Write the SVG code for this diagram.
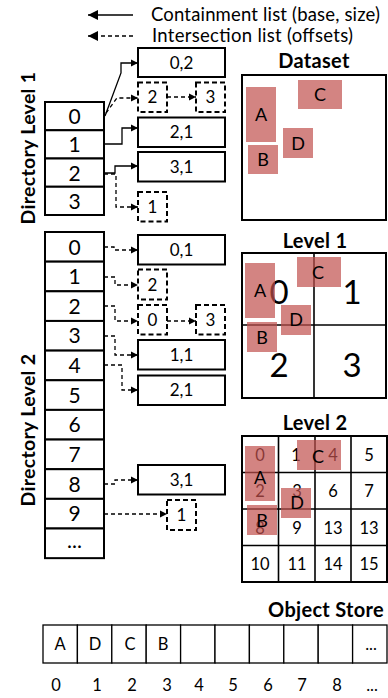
<svg xmlns="http://www.w3.org/2000/svg" width="388" height="698" viewBox="0 0 388 698">
  <defs>
    <marker id="ah" viewBox="0 0 8 8" refX="8" refY="4" markerWidth="7" markerHeight="8" markerUnits="userSpaceOnUse" orient="auto">
      <path d="M0,0 L8,4 L0,8 Z" fill="#000"/>
    </marker>
    <marker id="ahBig" viewBox="0 0 10 10" refX="10" refY="5" markerWidth="10" markerHeight="10" markerUnits="userSpaceOnUse" orient="auto">
      <path d="M0,0 L10,5 L0,10 Z" fill="#000"/>
    </marker>
  </defs>
  <style>
    text { font-family: Lato, "Open Sans", "Liberation Sans", sans-serif; fill: #000; }
    .dir { font-size: 21px; text-anchor: middle; }
    .lbl { font-size: 17px; text-anchor: middle; }
    .title { font-size: 20px; font-weight: bold; text-anchor: middle; letter-spacing: 0.3px; }
    .vtitle { font-size: 19.5px; font-weight: bold; text-anchor: middle; letter-spacing: 0.3px; }
    .legend { font-size: 18.5px; }
    .cell { fill: #fff; stroke: #000; stroke-width: 2; }
    .box { fill: #fff; stroke: #000; stroke-width: 2; }
    .dbox { fill: #fff; stroke: #000; stroke-width: 2; stroke-dasharray: 5 3; }
    .solid { fill: none; stroke: #000; stroke-width: 1.3; marker-end: url(#ah); }
    .dash { fill: none; stroke: #000; stroke-width: 1.3; stroke-dasharray: 4 3; marker-end: url(#ah); }
    .frame { fill: #fff; stroke: #000; stroke-width: 2; }
    .grid { stroke: #000; stroke-width: 1.6; fill: none; }
    .obj { fill: #c0504d; opacity: 0.7; }
    .objlbl { font-size: 18px; text-anchor: middle; }
    .big { font-size: 33px; text-anchor: middle; }
    .num { font-size: 16.5px; text-anchor: middle; }
    .store { fill: #fff; stroke: #000; stroke-width: 1.3; }
  </style>

  <!-- legend -->
  <g id="legend">
    <line x1="133" y1="15" x2="88" y2="15" stroke="#000" stroke-width="1.5" marker-end="url(#ahBig)"/>
    <line x1="133" y1="36" x2="88" y2="36" stroke="#000" stroke-width="1.5" stroke-dasharray="4 3" marker-end="url(#ahBig)"/>
    <text class="legend" x="151" y="21" textLength="229" lengthAdjust="spacing">Containment list (base, size)</text>
    <text class="legend" x="152" y="42" textLength="201" lengthAdjust="spacing">Intersection list (offsets)</text>
  </g>

  <!-- directory level 1 -->
  <g id="dir-level-1">
    <text class="vtitle" transform="translate(35,148) rotate(-90)">Directory Level 1</text>
    <rect class="cell" x="45" y="102" width="59" height="28.25"/>
    <rect class="cell" x="45" y="130.25" width="59" height="28.25"/>
    <rect class="cell" x="45" y="158.5" width="59" height="28.25"/>
    <rect class="cell" x="45" y="186.75" width="59" height="28.25"/>
    <text class="dir" x="74.5" y="124">0</text>
    <text class="dir" x="74.5" y="152">1</text>
    <text class="dir" x="74.5" y="180.5">2</text>
    <text class="dir" x="74.5" y="208.5">3</text>
  </g>

  <g id="l1-lists">
    <g id="l1-c0"><rect class="box" x="138" y="48" width="87" height="29"/><text class="lbl" x="181.5" y="68.5">0,2</text></g>
    <g id="l1-i0a"><rect class="dbox" x="138" y="82.5" width="29" height="29.5"/><text class="lbl" x="152.5" y="103">2</text></g>
    <g id="l1-i0b"><rect class="dbox" x="196" y="82.5" width="29" height="29.5"/><text class="lbl" x="210.5" y="103">3</text></g>
    <g id="l1-c1"><rect class="box" x="138" y="117.5" width="87" height="29.5"/><text class="lbl" x="181.5" y="138">2,1</text></g>
    <g id="l1-c2"><rect class="box" x="138" y="152" width="87" height="29.5"/><text class="lbl" x="181.5" y="172.5">3,1</text></g>
    <g id="l1-i2"><rect class="dbox" x="138" y="192" width="29" height="29.5"/><text class="lbl" x="152.5" y="212.5">1</text></g>
  </g>

  <!-- directory level 2 -->
  <g id="dir-level-2">
    <text class="vtitle" transform="translate(35,430) rotate(-90)">Directory Level 2</text>
    <rect class="cell" x="45" y="232" width="59" height="29.65"/>
    <rect class="cell" x="45" y="261.65" width="59" height="29.65"/>
    <rect class="cell" x="45" y="291.3" width="59" height="29.65"/>
    <rect class="cell" x="45" y="320.95" width="59" height="29.65"/>
    <rect class="cell" x="45" y="350.6" width="59" height="29.65"/>
    <rect class="cell" x="45" y="380.25" width="59" height="29.65"/>
    <rect class="cell" x="45" y="409.9" width="59" height="29.65"/>
    <rect class="cell" x="45" y="439.55" width="59" height="29.65"/>
    <rect class="cell" x="45" y="469.2" width="59" height="29.65"/>
    <rect class="cell" x="45" y="498.85" width="59" height="29.65"/>
    <rect class="cell" x="45" y="528.5" width="59" height="29.65"/>
    <text class="dir" x="74.5" y="254.5">0</text>
    <text class="dir" x="74.5" y="284">1</text>
    <text class="dir" x="74.5" y="313.5">2</text>
    <text class="dir" x="74.5" y="343">3</text>
    <text class="dir" x="74.5" y="373">4</text>
    <text class="dir" x="74.5" y="402.5">5</text>
    <text class="dir" x="74.5" y="432">6</text>
    <text class="dir" x="74.5" y="462">7</text>
    <text class="dir" x="74.5" y="491.5">8</text>
    <text class="dir" x="74.5" y="521">9</text>
    <text class="dir" x="74.5" y="548">...</text>
  </g>

  <g id="l2-lists">
    <g id="l2-c0"><rect class="box" x="138" y="235" width="87" height="29.5"/><text class="lbl" x="181.5" y="255.5">0,1</text></g>
    <g id="l2-i1"><rect class="dbox" x="138" y="269.5" width="29" height="30"/><text class="lbl" x="152.5" y="290.5">2</text></g>
    <g id="l2-i2a"><rect class="dbox" x="138" y="305" width="29" height="29.5"/><text class="lbl" x="152.5" y="326">0</text></g>
    <g id="l2-i2b"><rect class="dbox" x="196" y="305" width="29" height="29.5"/><text class="lbl" x="210.5" y="326">3</text></g>
    <g id="l2-c3"><rect class="box" x="138" y="340" width="87" height="29.5"/><text class="lbl" x="181.5" y="360.5">1,1</text></g>
    <g id="l2-c4"><rect class="box" x="138" y="375.5" width="87" height="29.5"/><text class="lbl" x="181.5" y="396">2,1</text></g>
    <g id="l2-c8"><rect class="box" x="138" y="465" width="87" height="29.5"/><text class="lbl" x="181.5" y="485.5">3,1</text></g>
    <g id="l2-i9"><rect class="dbox" x="167" y="500" width="29" height="30"/><text class="lbl" x="181.5" y="521">1</text></g>
  </g>

  <!-- connectors -->
  <g id="connectors">
    <path class="solid" d="M105,116 L121,73 V63 H138"/>
    <path class="dash" d="M106,113 L117,98 H138"/>
    <path class="dash" d="M167,97 H196"/>
    <path class="solid" d="M104,144 H122 V128 H138"/>
    <path class="solid" d="M104,173 H115 V166 H138"/>
    <path class="dash" d="M104,174 H116 V207 H138"/>

    <path class="dash" d="M104,247 H114 V250 H138"/>
    <path class="dash" d="M104,277 H115 V285 H138"/>
    <path class="dash" d="M104,306 H115 V321 H138"/>
    <path class="dash" d="M167,321 H196"/>
    <path class="dash" d="M104,336 H115 V355 H138"/>
    <path class="dash" d="M104,365 H122 V390 H138"/>
    <path class="dash" d="M104,484 H115 V480 H138"/>
    <path class="dash" d="M104,514 H167"/>
  </g>

  <!-- dataset view -->
  <g id="dataset">
    <text class="title" x="314" y="68">Dataset</text>
    <rect class="frame" x="242" y="75" width="144" height="145"/>
    <rect class="obj" x="246" y="87" width="30" height="55"/>
    <rect class="obj" x="298" y="80" width="44" height="29"/>
    <rect class="obj" x="283" y="128" width="30" height="30"/>
    <rect class="obj" x="248" y="145" width="30" height="29"/>
    <text class="objlbl" x="261" y="121">A</text>
    <text class="objlbl" x="320" y="101">C</text>
    <text class="objlbl" x="298" y="150">D</text>
    <text class="objlbl" x="263" y="166">B</text>
  </g>

  <!-- level 1 partition -->
  <g id="level-1">
    <text class="title" x="315" y="248">Level 1</text>
    <rect class="frame" x="242" y="253" width="144" height="145"/>
    <line class="grid" x1="314" y1="253" x2="314" y2="398"/>
    <line class="grid" x1="242" y1="325" x2="386" y2="325"/>
    <text class="big" x="279" y="304">0</text>
    <text class="big" x="352" y="304">1</text>
    <text class="big" x="279" y="377">2</text>
    <text class="big" x="352" y="377">3</text>
    <rect class="obj" x="245" y="263" width="30" height="55"/>
    <rect class="obj" x="297" y="257" width="44" height="30"/>
    <rect class="obj" x="281" y="305" width="30" height="30"/>
    <rect class="obj" x="247" y="322" width="30" height="30"/>
    <text class="objlbl" x="260" y="297">A</text>
    <text class="objlbl" x="318" y="279">C</text>
    <text class="objlbl" x="296" y="326">D</text>
    <text class="objlbl" x="262" y="344">B</text>
  </g>

  <!-- level 2 partition -->
  <g id="level-2">
    <text class="title" x="315" y="430">Level 2</text>
    <rect class="frame" x="242" y="436" width="145" height="146"/>
    <line class="grid" x1="278.5" y1="436" x2="278.5" y2="582"/>
    <line class="grid" x1="315" y1="436" x2="315" y2="582"/>
    <line class="grid" x1="351" y1="436" x2="351" y2="582"/>
    <line class="grid" x1="242" y1="472.5" x2="387" y2="472.5"/>
    <line class="grid" x1="242" y1="509" x2="387" y2="509"/>
    <line class="grid" x1="242" y1="545.5" x2="387" y2="545.5"/>
    <text class="num" x="260" y="461">0</text>
    <text class="num" x="296" y="461">1</text>
    <text class="num" x="333" y="461">4</text>
    <text class="num" x="369" y="461">5</text>
    <text class="num" x="260" y="497">2</text>
    <text class="num" x="297" y="497">3</text>
    <text class="num" x="333" y="497">6</text>
    <text class="num" x="369" y="497">7</text>
    <text class="num" x="260" y="534">8</text>
    <text class="num" x="297" y="534">9</text>
    <text class="num" x="333" y="534">13</text>
    <text class="num" x="369" y="534">13</text>
    <text class="num" x="260" y="570">10</text>
    <text class="num" x="297" y="570">11</text>
    <text class="num" x="333" y="570">14</text>
    <text class="num" x="369" y="570">15</text>
    <rect class="obj" x="245" y="446" width="30" height="55"/>
    <rect class="obj" x="297" y="440" width="44" height="30"/>
    <rect class="obj" x="281" y="488" width="30" height="30"/>
    <rect class="obj" x="247" y="505" width="30" height="30"/>
    <text class="objlbl" x="260" y="484">A</text>
    <text class="objlbl" x="318" y="463">C</text>
    <text class="objlbl" x="297" y="509">D</text>
    <text class="objlbl" x="262" y="527">B</text>
  </g>

  <!-- object store -->
  <g id="object-store">
    <text class="title" x="384" y="617" style="text-anchor:end">Object Store</text>
    <rect class="store" x="43" y="625" width="34.4" height="38"/>
    <rect class="store" x="77.4" y="625" width="34.4" height="38"/>
    <rect class="store" x="111.8" y="625" width="34.4" height="38"/>
    <rect class="store" x="146.2" y="625" width="34.4" height="38"/>
    <rect class="store" x="180.6" y="625" width="34.4" height="38"/>
    <rect class="store" x="215" y="625" width="34.4" height="38"/>
    <rect class="store" x="249.4" y="625" width="34.4" height="38"/>
    <rect class="store" x="283.8" y="625" width="34.4" height="38"/>
    <rect class="store" x="318.2" y="625" width="34.4" height="38"/>
    <rect class="store" x="352.6" y="625" width="34.4" height="38"/>
    <text class="num" x="60" y="650">A</text>
    <text class="num" x="95" y="650">D</text>
    <text class="num" x="130" y="650">C</text>
    <text class="num" x="163" y="650">B</text>
    <text class="num" x="371" y="650">...</text>
    <text class="num" x="56" y="691">0</text>
    <text class="num" x="97" y="691">1</text>
    <text class="num" x="132" y="691">2</text>
    <text class="num" x="167" y="691">3</text>
    <text class="num" x="199" y="691">4</text>
    <text class="num" x="233" y="691">5</text>
    <text class="num" x="268" y="691">6</text>
    <text class="num" x="302" y="691">7</text>
    <text class="num" x="337" y="691">8</text>
    <text class="num" x="372" y="691">...</text>
  </g>
</svg>
